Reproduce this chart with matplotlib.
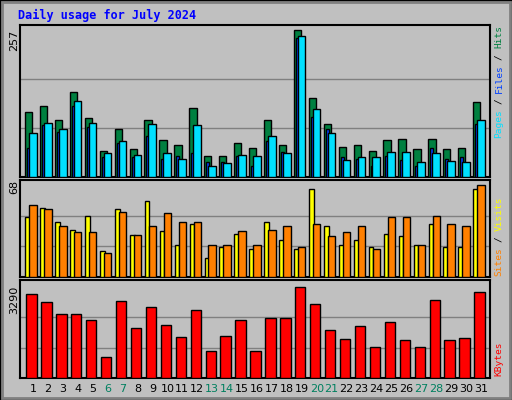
import matplotlib
matplotlib.use("Agg")
import matplotlib.pyplot as plt
import numpy as np

days = list(range(1, 32))
weekend = [6, 7, 13, 14, 20, 21, 27, 28]
hits = [114,124,100,149,103,46,83,49,100,65,55,121,37,37,60,51,100,56,257,138,93,53,55,46,65,67,48,67,49,51,130]
files = [51,90,79,124,88,34,60,34,72,32,37,41,27,27,37,20,62,44,243,104,83,35,32,20,37,30,20,51,32,35,93]
pages = [76,95,83,133,95,41,62,39,93,41,32,90,20,25,39,37,72,41,246,119,77,30,35,34,44,44,27,42,28,27,100]
sites = [44,51,41,35,45,19,50,31,56,34,24,39,14,22,32,21,41,27,21,65,38,24,27,22,32,30,24,39,22,22,65]
visits = [53,50,38,33,33,18,48,31,38,47,41,41,24,24,34,24,35,38,22,39,30,33,38,21,44,44,24,45,39,38,68]
kbytes = [3038,2750,2317,2317,2101,768,2786,1813,2570,1921,1489,2461,985,1525,2101,985,2173,2173,3290,2678,1741,1417,1885,1129,2029,1381,1129,2822,1381,1453,3110]

W, H = 512, 400
fig = plt.figure(figsize=(W/100, H/100), dpi=100, facecolor="#c0c0c0")
mono = "DejaVu Sans Mono"
u = 1/15.0
d = np.array(days)

def ax_at(l, t, r, b):
    a = fig.add_axes([l/W, 1-b/H, (r-l)/W, (b-t)/H])
    a.set_facecolor("#c0c0c0")
    a.set_xlim(1-13*u, 31+9*u)
    a.set_xticks([]); a.set_yticks([])
    for s in a.spines.values():
        s.set_linewidth(1.5)
    return a

def bars(a, lo, hi, vals, color):
    a.bar(d + (lo+hi)/2*u, vals, width=(hi-lo)*u, color=color, edgecolor="black", linewidth=1, zorder=3)

a1 = ax_at(20, 25, 490, 177)
m = 257
a1.set_ylim(0, m*152/147.4)
for g in (m/3, 2*m/3): a1.axhline(g, color="#808080", lw=1, zorder=1)
bars(a1, -8, -0.7, hits, "#008040")
bars(a1, -6, -3, files, "#0040ff")
bars(a1, -4, 3.7, pages, "#00e0ff")

a2 = ax_at(20, 180, 490, 277)
a2.set_ylim(0, 68*97/92)
for g in (68/3, 2*68/3): a2.axhline(g, color="#808080", lw=1, zorder=1)
bars(a2, -7.7, -3, sites, "#ffff00")
bars(a2, -3.7, 3.7, visits, "#ff8000")

a3 = ax_at(20, 280, 490, 378)
a3.set_ylim(0, 3290*98/91.3)
for g in (3290/3, 2*3290/3): a3.axhline(g, color="#808080", lw=1, zorder=1)
bars(a3, -6.7, 3.7, kbytes, "#ff0000")

fig.text(18/W, 1-15/H, "Daily usage for July 2024", color="#0000ff", fontweight="bold", family=mono, fontsize=8.5, va="center")
for y, t in ((40, "257"), (187, "68"), (300, "3290")):
    fig.text(14/W, 1-y/H, t, rotation=90, ha="center", va="center", fontsize=8, family="DejaVu Sans")

STEP = 5.6
def vlab(ypix, parts):
    y = ypix
    for t, c in parts:
        if t.strip():
            fig.text(499/W, 1-y/H, t, rotation=90, color=c, family=mono, fontsize=6.8,
                     ha="center", va="bottom")
        y -= len(t)*STEP
vlab(138, [("Pages", "#00e0ff"), (" ", None), ("/", "#000000"), (" ", None), ("Files", "#0040ff"),
           (" ", None), ("/", "#000000"), (" ", None), ("Hits", "#008040")])
vlab(276, [("Sites", "#ff8000"), (" ", None), ("/", "#000000"), (" ", None), ("Visits", "#ffff00")])
vlab(376, [("KBytes", "#ff0000")])

for dd in days:
    x = 20 + (dd - (1-13*u)) * (470/((31+9*u)-(1-13*u)))
    fig.text(x/W, 1-389/H, str(dd), ha="center", va="center", fontsize=8,
             color="#00805f" if dd in weekend else "black")

fig.add_artist(plt.Rectangle((0, 0), 1, 1, transform=fig.transFigure, fill=False, edgecolor="black", lw=2))
fig.add_artist(plt.Rectangle((2/W, 2/H), 1-4/W, 1-4/H, transform=fig.transFigure, fill=False, edgecolor="#808080", lw=2))
fig.savefig("out.png", dpi=100, facecolor=fig.get_facecolor())
